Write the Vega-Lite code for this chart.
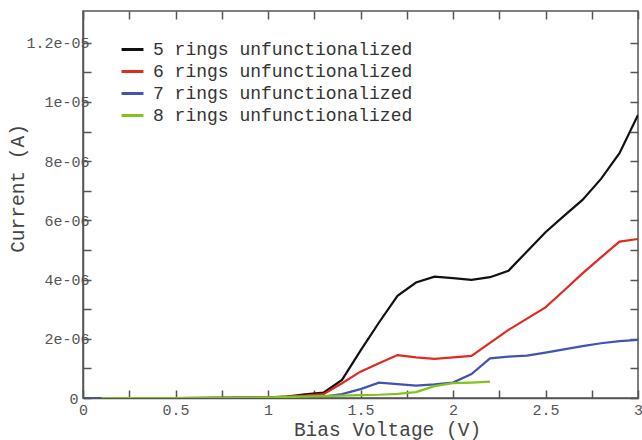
{
  "$schema": "https://vega.github.io/schema/vega-lite/v6.json",
  "width": 555,
  "height": 387,
  "autosize": {"type": "none"},
  "padding": {"left": 83, "top": 11, "right": 4, "bottom": 42},
  "background": "white",
  "config": {
    "font": "Liberation Mono",
    "view": {"stroke": "#555", "strokeWidth": 1.5},
    "axis": {"grid": false, "domainColor": "#555", "domainWidth": 1.5, "tickColor": "#555", "tickWidth": 1.5, "labelColor": "#555", "titleColor": "#444", "labelFont": "Liberation Mono", "titleFont": "Liberation Mono", "titleFontWeight": "normal"}
  },
  "data": {"values": [
    {"series": "5 rings unfunctionalized", "v": 0, "i": 0},
    {"series": "5 rings unfunctionalized", "v": 0.5, "i": 0},
    {"series": "5 rings unfunctionalized", "v": 0.9, "i": 0.01e-6},
    {"series": "5 rings unfunctionalized", "v": 1.0, "i": 0.02e-6},
    {"series": "5 rings unfunctionalized", "v": 1.1, "i": 0.05e-6},
    {"series": "5 rings unfunctionalized", "v": 1.2, "i": 0.12e-6},
    {"series": "5 rings unfunctionalized", "v": 1.3, "i": 0.18e-6},
    {"series": "5 rings unfunctionalized", "v": 1.4, "i": 0.61e-6},
    {"series": "5 rings unfunctionalized", "v": 1.5, "i": 1.6e-6},
    {"series": "5 rings unfunctionalized", "v": 1.6, "i": 2.55e-6},
    {"series": "5 rings unfunctionalized", "v": 1.7, "i": 3.45e-6},
    {"series": "5 rings unfunctionalized", "v": 1.8, "i": 3.9e-6},
    {"series": "5 rings unfunctionalized", "v": 1.9, "i": 4.1e-6},
    {"series": "5 rings unfunctionalized", "v": 2.0, "i": 4.05e-6},
    {"series": "5 rings unfunctionalized", "v": 2.1, "i": 3.99e-6},
    {"series": "5 rings unfunctionalized", "v": 2.2, "i": 4.08e-6},
    {"series": "5 rings unfunctionalized", "v": 2.3, "i": 4.3e-6},
    {"series": "5 rings unfunctionalized", "v": 2.4, "i": 4.95e-6},
    {"series": "5 rings unfunctionalized", "v": 2.5, "i": 5.6e-6},
    {"series": "5 rings unfunctionalized", "v": 2.6, "i": 6.15e-6},
    {"series": "5 rings unfunctionalized", "v": 2.7, "i": 6.69e-6},
    {"series": "5 rings unfunctionalized", "v": 2.8, "i": 7.4e-6},
    {"series": "5 rings unfunctionalized", "v": 2.9, "i": 8.27e-6},
    {"series": "5 rings unfunctionalized", "v": 3.0, "i": 9.56e-6},
    {"series": "6 rings unfunctionalized", "v": 0, "i": 0},
    {"series": "6 rings unfunctionalized", "v": 0.5, "i": 0},
    {"series": "6 rings unfunctionalized", "v": 1.0, "i": 0.01e-6},
    {"series": "6 rings unfunctionalized", "v": 1.2, "i": 0.08e-6},
    {"series": "6 rings unfunctionalized", "v": 1.3, "i": 0.13e-6},
    {"series": "6 rings unfunctionalized", "v": 1.4, "i": 0.5e-6},
    {"series": "6 rings unfunctionalized", "v": 1.5, "i": 0.89e-6},
    {"series": "6 rings unfunctionalized", "v": 1.6, "i": 1.17e-6},
    {"series": "6 rings unfunctionalized", "v": 1.7, "i": 1.45e-6},
    {"series": "6 rings unfunctionalized", "v": 1.8, "i": 1.37e-6},
    {"series": "6 rings unfunctionalized", "v": 1.9, "i": 1.32e-6},
    {"series": "6 rings unfunctionalized", "v": 2.0, "i": 1.37e-6},
    {"series": "6 rings unfunctionalized", "v": 2.1, "i": 1.42e-6},
    {"series": "6 rings unfunctionalized", "v": 2.2, "i": 1.86e-6},
    {"series": "6 rings unfunctionalized", "v": 2.3, "i": 2.3e-6},
    {"series": "6 rings unfunctionalized", "v": 2.4, "i": 2.68e-6},
    {"series": "6 rings unfunctionalized", "v": 2.5, "i": 3.06e-6},
    {"series": "6 rings unfunctionalized", "v": 2.6, "i": 3.63e-6},
    {"series": "6 rings unfunctionalized", "v": 2.7, "i": 4.21e-6},
    {"series": "6 rings unfunctionalized", "v": 2.8, "i": 4.75e-6},
    {"series": "6 rings unfunctionalized", "v": 2.9, "i": 5.28e-6},
    {"series": "6 rings unfunctionalized", "v": 3.0, "i": 5.37e-6},
    {"series": "7 rings unfunctionalized", "v": 0, "i": 0},
    {"series": "7 rings unfunctionalized", "v": 0.5, "i": 0},
    {"series": "7 rings unfunctionalized", "v": 1.0, "i": 0.01e-6},
    {"series": "7 rings unfunctionalized", "v": 1.3, "i": 0.05e-6},
    {"series": "7 rings unfunctionalized", "v": 1.4, "i": 0.13e-6},
    {"series": "7 rings unfunctionalized", "v": 1.5, "i": 0.3e-6},
    {"series": "7 rings unfunctionalized", "v": 1.6, "i": 0.52e-6},
    {"series": "7 rings unfunctionalized", "v": 1.7, "i": 0.47e-6},
    {"series": "7 rings unfunctionalized", "v": 1.8, "i": 0.42e-6},
    {"series": "7 rings unfunctionalized", "v": 1.9, "i": 0.46e-6},
    {"series": "7 rings unfunctionalized", "v": 2.0, "i": 0.52e-6},
    {"series": "7 rings unfunctionalized", "v": 2.1, "i": 0.81e-6},
    {"series": "7 rings unfunctionalized", "v": 2.2, "i": 1.34e-6},
    {"series": "7 rings unfunctionalized", "v": 2.3, "i": 1.4e-6},
    {"series": "7 rings unfunctionalized", "v": 2.4, "i": 1.43e-6},
    {"series": "7 rings unfunctionalized", "v": 2.5, "i": 1.53e-6},
    {"series": "7 rings unfunctionalized", "v": 2.6, "i": 1.64e-6},
    {"series": "7 rings unfunctionalized", "v": 2.7, "i": 1.75e-6},
    {"series": "7 rings unfunctionalized", "v": 2.8, "i": 1.85e-6},
    {"series": "7 rings unfunctionalized", "v": 2.9, "i": 1.92e-6},
    {"series": "7 rings unfunctionalized", "v": 3.0, "i": 1.96e-6},
    {"series": "8 rings unfunctionalized", "v": 0.1, "i": 0},
    {"series": "8 rings unfunctionalized", "v": 0.5, "i": 0},
    {"series": "8 rings unfunctionalized", "v": 1.0, "i": 0.02e-6},
    {"series": "8 rings unfunctionalized", "v": 1.3, "i": 0.06e-6},
    {"series": "8 rings unfunctionalized", "v": 1.5, "i": 0.1e-6},
    {"series": "8 rings unfunctionalized", "v": 1.6, "i": 0.11e-6},
    {"series": "8 rings unfunctionalized", "v": 1.7, "i": 0.14e-6},
    {"series": "8 rings unfunctionalized", "v": 1.8, "i": 0.2e-6},
    {"series": "8 rings unfunctionalized", "v": 1.9, "i": 0.4e-6},
    {"series": "8 rings unfunctionalized", "v": 2.0, "i": 0.5e-6},
    {"series": "8 rings unfunctionalized", "v": 2.1, "i": 0.52e-6},
    {"series": "8 rings unfunctionalized", "v": 2.2, "i": 0.55e-6}
  ]},
  "layer": [
    {
      "mark": {"type": "line", "strokeWidth": 2.2, "clip": true},
      "encoding": {
        "x": {"field": "v", "type": "quantitative", "scale": {"domain": [0, 3], "nice": false, "zero": false},
          "axis": {"orient": "bottom", "title": "Bias Voltage (V)", "titleFontSize": 19.5, "titleX": 304, "titleY": 37, "titleAlign": "center", "titleBaseline": "alphabetic", "values": [0, 0.25, 0.5, 0.75, 1, 1.25, 1.5, 1.75, 2, 2.25, 2.5, 2.75, 3], "labelExpr": "(datum.value * 2) % 1 == 0 ? format(datum.value, '~g') : ''", "labelFontSize": 15, "tickSize": -8, "labelPadding": 12, "labelFlush": false}},
        "y": {"field": "i", "type": "quantitative", "scale": {"domain": [0, 1.307e-5], "nice": false},
          "axis": {"orient": "left", "title": "Current (A)", "titleFontSize": 19.5, "titleX": -66, "titleY": 177, "titleAngle": -90, "titleAlign": "center", "titleBaseline": "middle", "values": [0, 1e-6, 2e-6, 3e-6, 4e-6, 5e-6, 6e-6, 7e-6, 8e-6, 9e-6, 1e-5, 1.1e-5, 1.2e-5], "labelExpr": "datum.value == 0 ? '0' : (round(datum.value * 1e6) % 2 == 0 ? replace(format(datum.value, '~e'), 'e-', 'e-0') : '')", "labelFontSize": 15, "tickSize": -8, "labelPadding": {"condition": {"test": "datum.value == 0", "value": 13}, "value": 2}}},
        "color": {"field": "series", "type": "nominal",
          "scale": {"domain": ["5 rings unfunctionalized", "6 rings unfunctionalized", "7 rings unfunctionalized", "8 rings unfunctionalized"], "range": ["#111111", "#df2a20", "#4253b2", "#83c41c"]},
          "legend": {"orient": "none", "legendX": 37, "legendY": 26, "title": null, "symbolType": "stroke", "symbolSize": 480, "symbolStrokeWidth": 3, "labelFontSize": 18, "labelColor": "#333", "labelFont": "Liberation Mono", "labelLimit": 400, "rowPadding": 0, "labelOffset": 8}}
      }
    },
    {
      "mark": {"type": "line", "opacity": 0},
      "encoding": {
        "x": {"field": "v", "type": "quantitative", "axis": {"orient": "top", "title": null, "labels": false, "domain": false, "values": [0, 0.25, 0.5, 0.75, 1, 1.25, 1.5, 1.75, 2, 2.25, 2.5, 2.75, 3], "tickSize": -8}},
        "y": {"field": "i", "type": "quantitative", "axis": {"orient": "right", "title": null, "labels": false, "domain": false, "values": [0, 1e-6, 2e-6, 3e-6, 4e-6, 5e-6, 6e-6, 7e-6, 8e-6, 9e-6, 1e-5, 1.1e-5, 1.2e-5], "tickSize": -8}},
        "detail": {"field": "series"}
      }
    }
  ],
  "resolve": {"axis": {"x": "independent", "y": "independent"}}
}
